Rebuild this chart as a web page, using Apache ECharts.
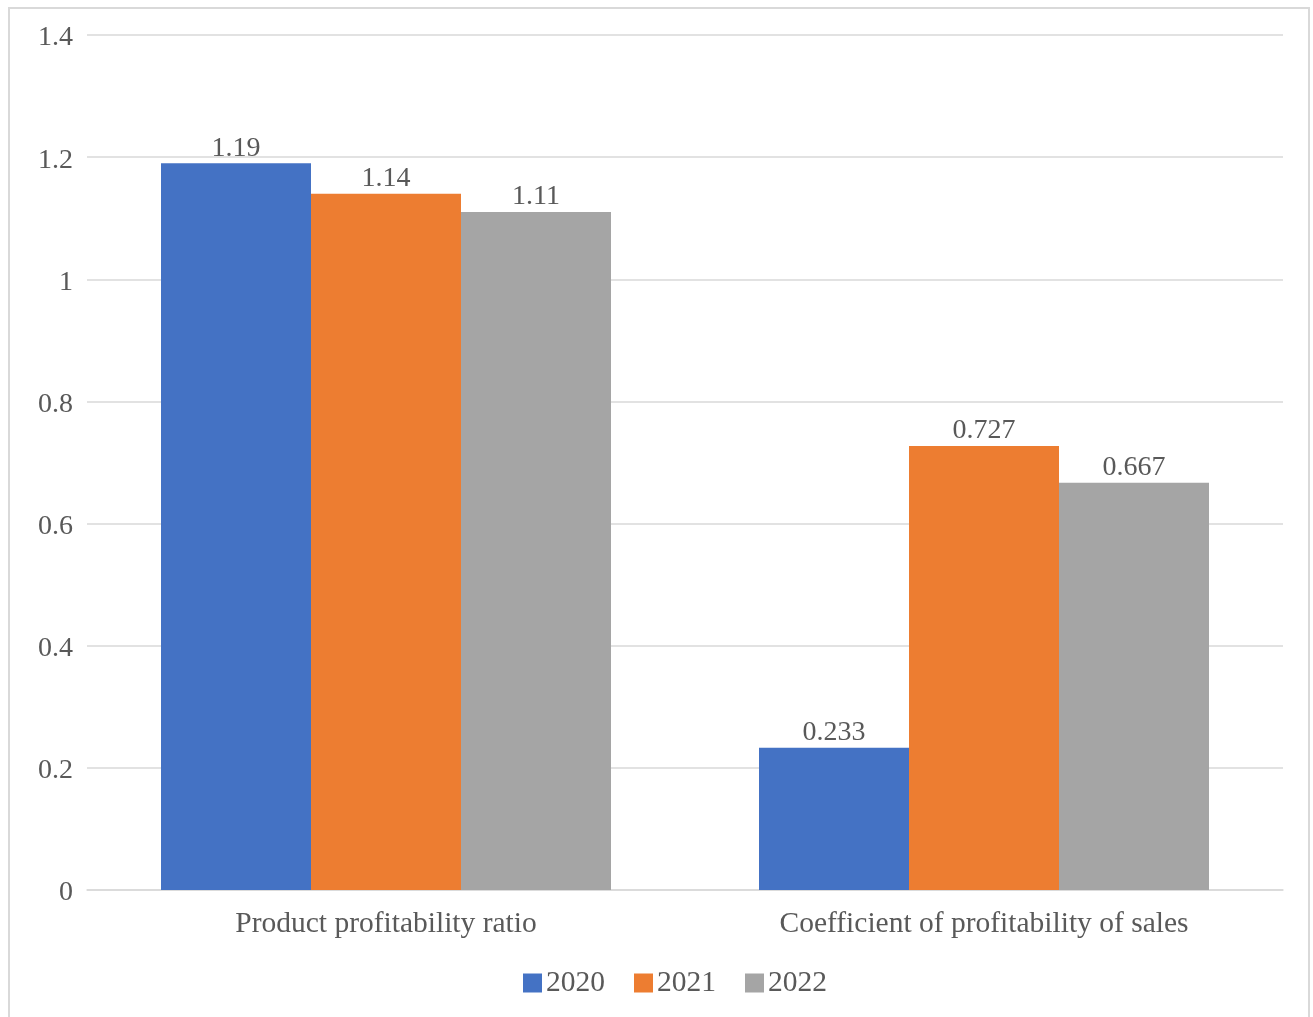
<!DOCTYPE html>
<html><head><meta charset="utf-8">
<script src="https://cdn.jsdelivr.net/npm/echarts@6/dist/echarts.min.js"></script>
<style>html,body{margin:0;padding:0;background:#fff;}#c{width:1313px;height:1017px;}</style>
</head><body><div id="c"></div>
<script>
const categories = ['Product profitability ratio', 'Coefficient of profitability of sales'];
const seriesNames = ['2020', '2021', '2022'];
const values2020 = [1.19, 0.233];
const values2021 = [1.14, 0.727];
const values2022 = [1.11, 0.667];
const colors = ['#4472C4', '#ED7D31', '#A5A5A5'];
const font = '"Liberation Serif", "Times New Roman", serif';
const txt = '#595959';
const data = [values2020, values2021, values2022];
const chart = echarts.init(document.getElementById('c'));
chart.setOption({
  animation: false,
  textStyle: {fontFamily: font},
  graphic: [{type: 'rect', shape: {x: 9, y: 8, width: 1300, height: 1030}, style: {fill: 'none', stroke: '#d9d9d9', lineWidth: 2}, silent: true}],
  grid: {left: 87, right: 30, top: 35, bottom: 127},
  legend: {
    data: seriesNames, bottom: 14, left: 518, itemWidth: 19, itemHeight: 19, itemGap: 29,
    icon: 'rect',
    textStyle: {fontFamily: font, fontSize: 29.5, color: txt, padding: [0, 0, 0, -1]}
  },
  xAxis: {
    type: 'category', data: categories,
    axisLine: {lineStyle: {color: '#d9d9d9', width: 1.5}},
    axisTick: {show: false},
    axisLabel: {fontFamily: font, fontSize: 29.5, color: txt, margin: 19}
  },
  yAxis: {
    type: 'value', min: 0, max: 1.4, interval: 0.2,
    axisLine: {show: false}, axisTick: {show: false},
    splitLine: {lineStyle: {color: '#d9d9d9', width: 1.5}},
    axisLabel: {fontFamily: font, fontSize: 28, color: txt, margin: 14,
      formatter: v => '{a|' + String(Math.round(v * 10) / 10) + '}',
      rich: {a: {fontFamily: font, fontSize: 28, color: txt, padding: [6, 0, 0, 0]}}}
  },
  series: seriesNames.map((n, i) => ({
    name: n, type: 'bar', data: data[i], barGap: '0%', barCategoryGap: '24.75%',
    itemStyle: {color: colors[i]},
    label: {show: true, position: 'top', distance: 1, fontFamily: font, fontSize: 28, color: txt}
  }))
});
</script></body></html>
